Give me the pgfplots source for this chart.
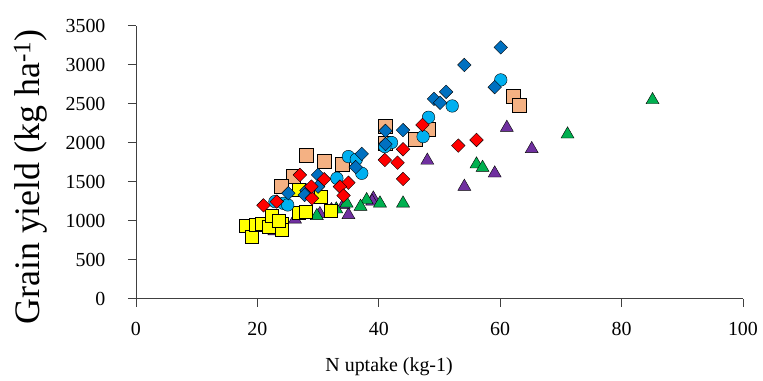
\documentclass[border=0pt]{standalone}
\usepackage{fontspec}
\setmainfont{Liberation Serif}
\usepackage{pgfplots}
\pgfplotsset{compat=1.18}
\definecolor{dblue}{HTML}{0070C0}
\definecolor{lblue}{HTML}{00B0F0}
\definecolor{peach}{HTML}{F4B183}
\definecolor{myred}{HTML}{FF0000}
\definecolor{myyellow}{HTML}{FFFF00}
\definecolor{mygreen}{HTML}{00B050}
\definecolor{mypurple}{HTML}{7030A0}
\begin{document}
\begin{tikzpicture}
\begin{axis}[
  scale only axis, width=607bp, height=273bp,
  xmin=0, xmax=100, ymin=0, ymax=3500,
  axis lines*=left,
  axis line style={draw=black!75, line width=0.9bp},
  xtick={0,20,...,100}, ytick={0,500,...,3500},
  tick align=outside, major tick length=8bp,
  tick style={draw=black!75, line width=0.9bp},
  tick label style={font=\rmfamily\fontsize{20}{24}\selectfont},
  xticklabel style={yshift=-12bp},
  yticklabel style={xshift=-19bp},
  /pgf/number format/assume math mode=true,
  /pgf/number format/1000 sep={},
  scaled ticks=false,
  clip=false,
  xlabel={N uptake (kg-1)},
  xlabel style={font=\rmfamily\fontsize{20}{24}\selectfont, at={(axis description cs:0.417,-0.25)}, anchor=center},
  ylabel={Grain yield (kg ha\textsuperscript{-1})},
  ylabel style={font=\rmfamily\fontsize{36}{40}\selectfont, at={(axis description cs:-0.174,0.447)}, anchor=center},
  every axis plot/.append style={only marks, mark options={draw=black!85, line width=0.8bp}},
]
\path (rel axis cs:-0.224,-0.297) rectangle (rel axis cs:1.033,1.095);
% purple triangles
\addplot[mark=triangle*, mark size=7.5bp, mark options={fill=mypurple}] coordinates {
(61.1,2196) (65.2,1923) (59.1,1611) (54.1,1440) (48,1775) (39.1,1290) (38.9,1250)
(35,1077) (34.2,1210) (32.2,1141) (30.3,1090) (26.2,1020) (22.8,870)};
% green triangles
\addplot[mark=triangle*, mark size=7.5bp, mark options={fill=mygreen}] coordinates {
(85.1,2551) (71.1,2111) (56.1,1727) (57.1,1683) (44,1226) (40.2,1226) (38,1269)
(37,1184) (34.7,1226) (29.8,1065) (33,1150)};
% yellow squares
\addplot[mark=square*, mark size=6.5bp, mark options={fill=myyellow}] coordinates {
(18,945) (19.1,800) (19.8,955) (20.7,960) (21.9,930) (24,970) (24,890) (22.3,1070)
(26.8,1100) (28,1120) (32,1135) (26.8,1395) (30.4,1315) (23.5,1000)};
% peach squares
\addplot[mark=square*, mark size=7bp, mark options={fill=peach}] coordinates {
(28.1,1846) (31,1769) (34,1731) (25.9,1568) (24,1440) (41,2209) (41,1996) (46,2051)
(48.2,2175) (62.2,2594) (63.2,2483)};
% light blue circles
\addplot[mark=*, mark size=6.3bp, mark options={fill=lblue}] coordinates {
(60.1,2808) (52.1,2474) (48.2,2329) (47.3,2081) (42.1,2005) (41,1953) (35,1825)
(36.3,1790) (37.2,1611) (33.1,1547) (22.9,1248) (24.3,1226) (25,1205)};
% dark blue diamonds
\addplot[mark=square*, mark size=4.8bp, mark options={fill=dblue, rotate=45}] coordinates {
(60.1,3225) (54.1,3000) (59.1,2715) (51.1,2655) (49.1,2565) (50.1,2515) (44,2165)
(41.1,2155) (41.1,1985) (37.2,1860) (36.2,1690) (30,1590) (30,1440) (28.1,1390)
(27.8,1333) (25.1,1355)};
% red diamonds
\addplot[mark=square*, mark size=4.8bp, mark options={fill=myred, rotate=45}] coordinates {
(47.2,2231) (56.1,2038) (53.1,1966) (44,1919) (41,1782) (43.1,1747) (44,1538)
(27,1590) (31,1535) (35,1490) (33.6,1440) (34.2,1325) (21,1200) (23.2,1248)
(29,1290) (28.9,1440)};
\end{axis}
\end{tikzpicture}
\end{document}
